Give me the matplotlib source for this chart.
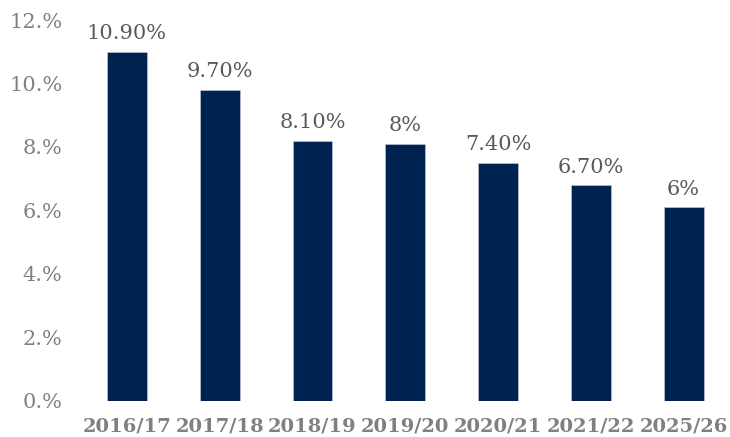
import matplotlib
matplotlib.use("Agg")
import matplotlib.pyplot as plt

categories = ["2016/17", "2017/18", "2018/19", "2019/20", "2020/21", "2021/22", "2025/26"]
values = [11.0, 9.8, 8.2, 8.1, 7.5, 6.8, 6.1]
value_labels = ["10.90%", "9.70%", "8.10%", "8%", "7.40%", "6.70%", "6%"]
yticks = [0, 2, 4, 6, 8, 10, 12]
ytick_labels = ["0.%", "2.%", "4.%", "6.%", "8.%", "10.%", "12.%"]

plt.rcParams['font.family'] = ['DejaVu Serif']

fig = plt.figure(figsize=(7.30, 4.37), dpi=100)
ax = fig.add_axes([80.5/730, (437-400.7)/437, (730-80.5)/730, (400.7-20)/437])

x = range(len(categories))
bars = ax.bar(x, values, width=0.43, color="#002250", edgecolor="#c8d0dc", linewidth=0.4)

for xi, v, lab in zip(x, values, value_labels):
    ax.annotate(lab, (xi, v), xytext=(0, 6), textcoords="offset points",
                ha="center", va="bottom", fontsize=15, color="#595959")

ax.set_xlim(-0.5, len(categories) - 0.5)
ax.set_ylim(0, 12)
ax.set_yticks(yticks)
ax.set_yticklabels(ytick_labels, fontsize=15, color="#808080")
ax.set_xticks(list(x))
ax.set_xticklabels(categories, fontsize=14, fontweight="bold", color="#808080")
ax.tick_params(axis="both", length=0)
ax.tick_params(axis="y", pad=13)
ax.tick_params(axis="x", pad=12)
for s in ax.spines.values():
    s.set_visible(False)

fig.savefig("out.png", dpi=100)
